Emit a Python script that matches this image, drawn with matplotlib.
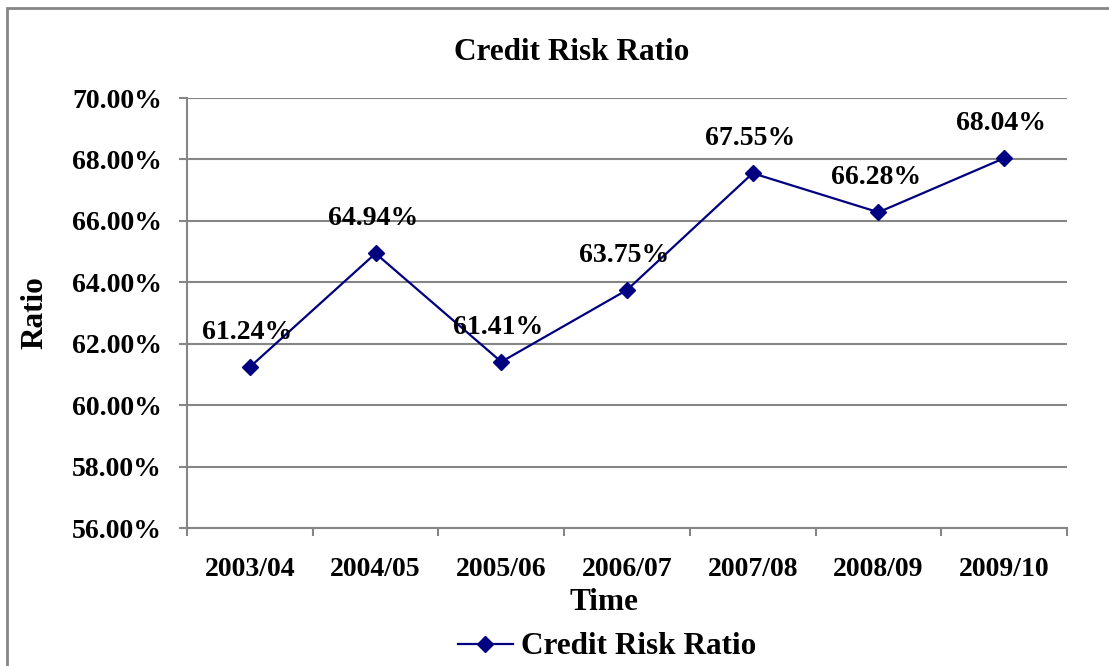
import matplotlib.pyplot as plt
from matplotlib.patches import Rectangle
from matplotlib.lines import Line2D

periods = ["2003/04", "2004/05", "2005/06", "2006/07", "2007/08", "2008/09", "2009/10"]
ratio = [61.24, 64.94, 61.41, 63.75, 67.55, 66.28, 68.04]
y_ticks = [56, 58, 60, 62, 64, 66, 68, 70]

navy = "#000080"
grid_gray = "#868686"
font = {"family": "Liberation Serif", "weight": "bold"}

fig = plt.figure(figsize=(11.09, 6.66), dpi=100)
W, H = 1109, 666

# outer chart border (runs off the right and bottom edges)
fig.patches.append(Rectangle((7 / W, -0.1), 1.2, 1 - 8 / H + 0.1, transform=fig.transFigure,
                             fill=False, edgecolor=grid_gray, linewidth=2))

ax = fig.add_axes([187 / W, 138 / H, 880 / W, 430 / H])
x = list(range(len(periods)))
ax.plot(x, ratio, color=navy, linewidth=1.6, marker="D", markersize=8.5)

for xi, v in zip(x, ratio):
    ax.annotate(f"{v:.2f}%", (xi, v), xytext=(-2, 25), textcoords="offset points",
                ha="center", va="center", fontsize=20, **font)

ax.set_xlim(-0.5, len(periods) - 0.5)
ax.set_ylim(56, 70)
ax.set_yticks(y_ticks)
ax.set_yticklabels([f"{t:.2f}%" for t in y_ticks], fontsize=20, **font)
ax.set_xticks([i - 0.5 for i in range(len(periods) + 1)])
ax.set_xticklabels([])
ax.set_xticks(x, minor=True)
ax.set_xticklabels(periods, minor=True, fontsize=20, **font)
ax.tick_params(axis="y", length=6, width=1.5, color=grid_gray, pad=12)
ax.tick_params(axis="x", which="major", length=6, width=1.5, color=grid_gray)
ax.tick_params(axis="x", which="minor", length=0, pad=21)
ax.grid(axis="y", color=grid_gray, linewidth=1.5)
ax.set_axisbelow(True)
for s in ["top", "right"]:
    ax.spines[s].set_visible(False)
for s in ["left", "bottom"]:
    ax.spines[s].set_color(grid_gray)
    ax.spines[s].set_linewidth(1.5)

fig.text(572 / W, 1 - 52 / H, "Credit Risk Ratio", ha="center", va="center", fontsize=22.5, **font)
fig.text(604 / W, 1 - 603 / H, "Time", ha="center", va="center", fontsize=22.5, **font)
fig.text(35 / W, 1 - 313 / H, "Ratio", ha="center", va="center", rotation=90, fontsize=22.5, **font)

handle = Line2D([], [], color=navy, linewidth=1.6, marker="D", markersize=8.5)
fig.legend([handle], ["Credit Risk Ratio"], loc="center", bbox_to_anchor=(607 / W, 1 - 647 / H),
           frameon=False, prop={"family": "Liberation Serif", "weight": "bold", "size": 22.5},
           handlelength=1.75, handletextpad=0.26)

fig.savefig("out.png", dpi=100)
